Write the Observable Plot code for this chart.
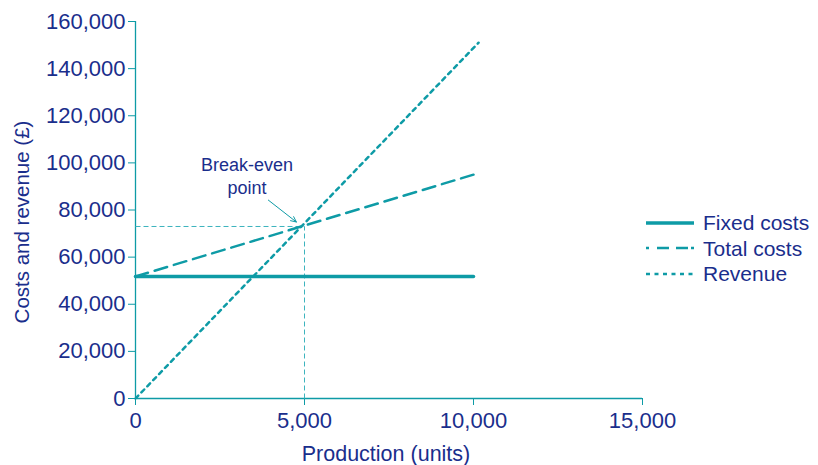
<!DOCTYPE html>
<html>
<head>
<meta charset="utf-8">
<script src="https://cdn.jsdelivr.net/npm/d3@7"></script>
<script src="https://cdn.jsdelivr.net/npm/@observablehq/plot@0.6"></script>
<style>
  body { margin: 0; background: #fff; }
  #wrap { position: relative; width: 818px; height: 465px; font-family: "Liberation Sans", Arial, sans-serif; }
  #legend { position: absolute; left: 646px; top: 210px; color: #1a2e8c; font-size: 21px; line-height: 25.5px; }
  #legend div { display: flex; align-items: center; }
  #legend svg { margin-right: 9px; }
</style>
</head>
<body>
<div id="wrap"></div>
<script>
const teal = "#0e9ba6";
const guide = "#3db4be";
const navy = "#1a2e8c";

// data (units, £)
const fixedCosts = [{x: 0, y: 51800}, {x: 10000, y: 51800}];
const totalCosts = [{x: 0, y: 51800}, {x: 10000, y: 95000}];
const revenue = [{x: 0, y: 0}, {x: 10150, y: 151000}];
const breakEven = {x: 5000, y: 73000};
const breakEvenLabel = [{x: 3300, y: 94800, text: "Break-even\npoint"}];
const breakEvenArrow = [{x1: 3930, y1: 84200, x2: 4760, y2: 74900}];
const xTicks = [0, 5000, 10000, 15000];
const yTicks = [0, 20000, 40000, 60000, 80000, 100000, 120000, 140000, 160000];
const xLabel = "Production (units)";
const yLabel = "Costs and revenue (£)";

const guides = [
  {x1: 0, y1: breakEven.y, x2: breakEven.x, y2: breakEven.y},
  {x1: breakEven.x, y1: 0, x2: breakEven.x, y2: breakEven.y}
];

const fmt = d3.format(",");

const chart = Plot.plot({
  width: 818,
  height: 465,
  marginLeft: 135,
  marginRight: 176,
  marginTop: 21,
  marginBottom: 67,
  style: {fontFamily: "Liberation Sans, Arial, sans-serif", fontSize: "20px", color: navy, background: "white", overflow: "visible"},
  x: {domain: [0, 15000]},
  y: {domain: [0, 160000]},
  marks: [
    Plot.axisX({ticks: xTicks, tickFormat: fmt, tickSize: 7, tickPadding: 7, stroke: teal, fill: navy, fontSize: 22, label: null}),
    Plot.axisY({ticks: yTicks, tickFormat: fmt, tickSize: 7, tickPadding: 3, stroke: teal, fill: navy, fontSize: 22, label: null}),
    Plot.text([xLabel], {frameAnchor: "bottom", dy: 62, dx: -3, fill: navy, fontSize: 21.5}),
    Plot.text([yLabel], {frameAnchor: "left", textAnchor: "middle", rotate: -90, dx: -113, dy: 12, fill: navy, fontSize: 20.5}),
    Plot.ruleX([0], {y1: 0, y2: 160000, stroke: teal, strokeWidth: 1.3}),
    Plot.ruleY([0], {x1: 0, x2: 15000, stroke: teal, strokeWidth: 1.3}),
    Plot.link(guides, {x1: "x1", y1: "y1", x2: "x2", y2: "y2", stroke: guide, strokeWidth: 1, strokeDasharray: "5,3"}),
    Plot.line(fixedCosts, {x: "x", y: "y", stroke: teal, strokeWidth: 3.5}),
    Plot.line(totalCosts, {x: "x", y: "y", stroke: teal, strokeWidth: 2.5, strokeDasharray: "13,7"}),
    Plot.line(revenue, {x: "x", y: "y", stroke: teal, strokeWidth: 2.5, strokeDasharray: "4,4.5"}),
    Plot.arrow(breakEvenArrow, {x1: "x1", y1: "y1", x2: "x2", y2: "y2", stroke: teal, strokeWidth: 1, headLength: 9, headAngle: 50}),
    Plot.text(breakEvenLabel, {x: "x", y: "y", text: "text", fill: navy, fontSize: 18, lineHeight: 1.3})
  ]
});

const wrap = document.getElementById("wrap");
wrap.appendChild(chart);

const legendItems = [
  {label: "Fixed costs", width: 3.5, dash: null},
  {label: "Total costs", width: 2.5, dash: "3,8,12,7,12"},
  {label: "Revenue", width: 2.5, dash: "4,4.5"}
];
const legend = document.createElement("div");
legend.id = "legend";
for (const it of legendItems) {
  const row = document.createElement("div");
  row.innerHTML = `<svg width="48" height="10"><line x1="0" x2="48" y1="5" y2="5" stroke="${teal}" stroke-width="${it.width}" ${it.dash ? `stroke-dasharray="${it.dash}"` : ""}/></svg><span>${it.label}</span>`;
  legend.appendChild(row);
}
wrap.appendChild(legend);
</script>
</body>
</html>
